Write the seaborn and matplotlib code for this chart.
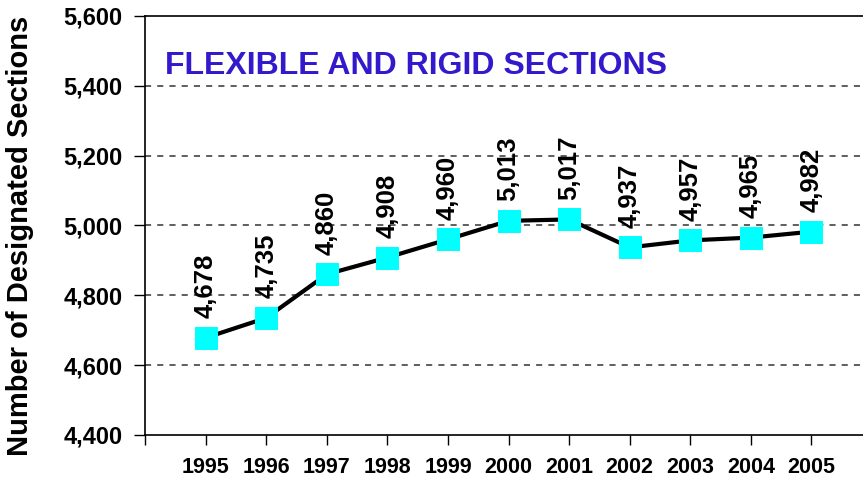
import pandas as pd
import matplotlib
matplotlib.use("Agg")
import matplotlib.pyplot as plt
import seaborn as sns

# values
years = [1995, 1996, 1997, 1998, 1999, 2000, 2001, 2002, 2003, 2004, 2005]
sections = [4678, 4735, 4860, 4908, 4960, 5013, 5017, 4937, 4957, 4965, 4982]
y_ticks = [4400, 4600, 4800, 5000, 5200, 5400, 5600]
title_text = "FLEXIBLE AND RIGID SECTIONS"
y_label = "Number of Designated Sections"

df = pd.DataFrame({"year": years, "sections": sections})

sns.set_style("white")
plt.rcParams["font.family"] = ["Liberation Sans", "DejaVu Sans"]
plt.rcParams["text.color"] = "black"
plt.rcParams["axes.labelcolor"] = "black"
plt.rcParams["xtick.color"] = "black"
plt.rcParams["ytick.color"] = "black"

fig = plt.figure(figsize=(8.63, 4.79), dpi=100)
ax = fig.add_axes([0.168, 0.092, 0.832, 0.875])

# dashed grid lines
for v in y_ticks[1:-1]:
    ax.axhline(v, color="#333333", lw=1.1, ls=(0, (4, 4)), zorder=0)

sns.lineplot(data=df, x="year", y="sections", ax=ax, color="black", lw=3,
             marker="s", markersize=15.5, markerfacecolor="#00FFFF",
             markeredgecolor="#00FFFF", zorder=3)

# value labels above the markers
for x, v in zip(years, sections):
    ax.annotate(f"{v:,}", (x, v), xytext=(0, 14), textcoords="offset points",
                rotation=90, ha="center", va="bottom", fontsize=18.5,
                fontweight="bold", color="black")

ax.set_xlim(1994, 2005.85)
ax.set_ylim(4400, 5600)
ax.set_xticks(list(range(1994, 2006)))
ax.set_xticklabels([""] + [str(y) for y in years])
ax.set_yticks(y_ticks)
ax.set_yticklabels([f"{t:,}" for t in y_ticks])
ax.tick_params(axis="y", direction="out", length=8, width=1, pad=8,
               labelsize=17, left=True, colors="black")
ax.tick_params(axis="x", direction="out", length=7, width=1, pad=9,
               labelsize=15.5, bottom=True, colors="black")
for lab in ax.get_xticklabels() + ax.get_yticklabels():
    lab.set_fontweight("bold")

for s in ["left", "bottom", "top"]:
    ax.spines[s].set_color("black")
    ax.spines[s].set_linewidth(1.2)
ax.spines["right"].set_visible(False)

ax.set_xlabel("")
ax.set_ylabel(y_label, fontsize=21, fontweight="bold", color="black")
ax.yaxis.set_label_coords(-0.155, 0.475)

ax.text(0.028, 0.88, title_text, transform=ax.transAxes, color="#3319CC",
        fontsize=23, fontweight="bold", ha="left", va="center")

fig.savefig("out.png", dpi=100)
